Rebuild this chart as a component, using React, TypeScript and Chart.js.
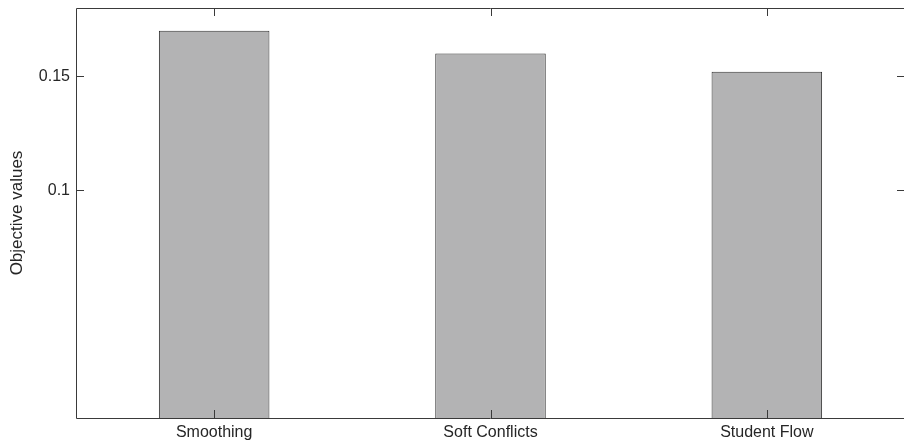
import React, { useEffect, useRef } from "react";
import { Chart, registerables } from "chart.js";

Chart.register(...registerables);

const categories = ["Smoothing", "Soft Conflicts", "Student Flow"];
const objectiveValues = [0.170, 0.160, 0.152];
const yTickValues = [0.1, 0.15];

const AXIS_COLOR = "#3a3a3a";
const TEXT_COLOR = "#262626";
const FONT = "'Liberation Sans', Arial, Helvetica, sans-serif";

const boxTicksPlugin = {
  id: "boxTicks",
  afterDraw(chart: any) {
    const { ctx, chartArea, scales } = chart;
    const { left, right, top, bottom } = chartArea;
    const len = 8;
    ctx.save();
    ctx.strokeStyle = AXIS_COLOR;
    ctx.lineWidth = 1;
    ctx.beginPath();
    ctx.rect(left + 0.5, top + 0.5, right - left - 1, bottom - top);
    ctx.stroke();
    ctx.beginPath();
    scales.x.ticks.forEach((_t: any, i: number) => {
      const x = Math.round(scales.x.getPixelForTick(i)) + 0.5;
      ctx.moveTo(x, bottom);
      ctx.lineTo(x, bottom - len);
      ctx.moveTo(x, top);
      ctx.lineTo(x, top + len);
    });
    yTickValues.forEach((v) => {
      const y = Math.round(scales.y.getPixelForValue(v)) + 0.5;
      ctx.moveTo(left, y);
      ctx.lineTo(left + len, y);
      ctx.moveTo(right, y);
      ctx.lineTo(right - len, y);
    });
    ctx.stroke();
    ctx.restore();
  },
};

export default function App() {
  const ref = useRef<HTMLCanvasElement | null>(null);
  useEffect(() => {
    document.body.style.margin = "0";
    const canvas = ref.current!;
    const chart = new Chart(canvas, {
      type: "bar",
      data: {
        labels: categories,
        datasets: [
          {
            data: objectiveValues,
            backgroundColor: "#b3b3b4",
            borderColor: "#333333",
            borderWidth: 1,
            categoryPercentage: 0.4,
            barPercentage: 1,
          },
        ],
      },
      options: {
        animation: false,
        responsive: false,
        devicePixelRatio: 1,
        layout: { padding: { left: 0, top: 8, right: 0, bottom: 0 } },
        plugins: { legend: { display: false }, tooltip: { enabled: false } },
        scales: {
          x: {
            grid: { display: false, drawTicks: false },
            border: { display: false },
            ticks: {
              padding: 5,
              color: TEXT_COLOR,
              font: { family: FONT, size: 16 },
              maxRotation: 0,
            },
            afterFit(scale: any) {
              scale.height = 23;
              scale.paddingLeft = 0;
              scale.paddingRight = 0;
            },
          },
          y: {
            min: 0,
            max: 0.18,
            grid: { display: false, drawTicks: false },
            border: { display: false },
            afterBuildTicks(scale: any) {
              scale.ticks = yTickValues.map((v) => ({ value: v }));
            },
            ticks: {
              padding: 6,
              color: TEXT_COLOR,
              font: { family: FONT, size: 16 },
              callback: (v: any) => String(v),
            },
            title: {
              display: true,
              text: "Objective values",
              color: TEXT_COLOR,
              font: { family: FONT, size: 17 },
              padding: { top: 7, bottom: 0 },
            },
            afterFit(scale: any) {
              scale.width = 76;
              scale.paddingTop = 0;
              scale.paddingBottom = 0;
            },
          },
        },
      },
      plugins: [boxTicksPlugin],
    } as any);
    return () => chart.destroy();
  }, []);
  return (
    <div style={{ position: "fixed", left: 0, top: 0, width: 904, height: 441, overflow: "hidden", background: "#fff" }}>
      <canvas ref={ref} width={905} height={441} style={{ width: 905, height: 441, display: "block" }} />
    </div>
  );
}
